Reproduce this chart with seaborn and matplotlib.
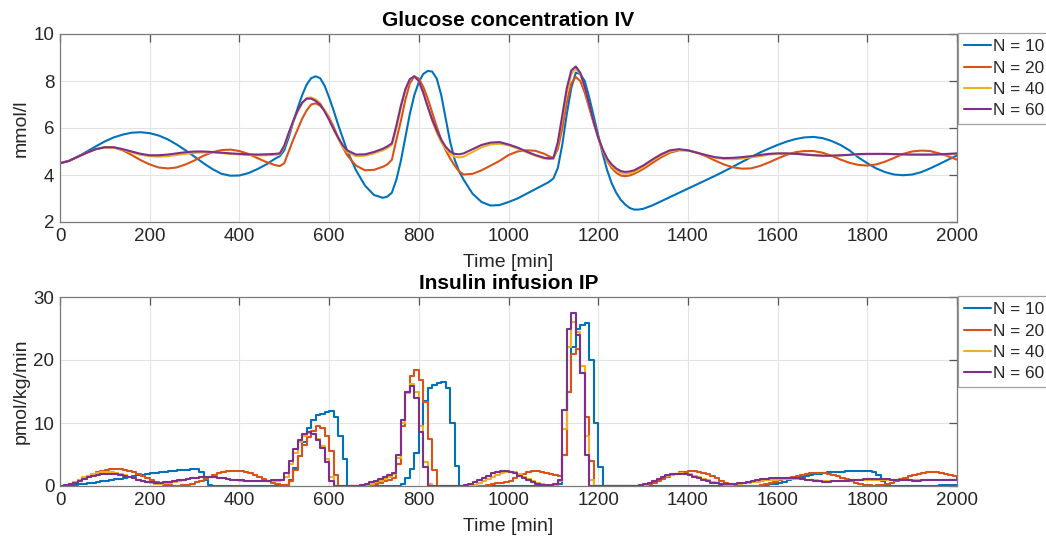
import numpy as np
import pandas as pd
import matplotlib
matplotlib.use("Agg")
import matplotlib.pyplot as plt
import seaborn as sns

# ---------------- data ----------------
series_labels = ["N = 10", "N = 20", "N = 40", "N = 60"]
series_colors = ["#0072BD", "#D95319", "#EDB120", "#7E2F8E"]

time_glucose = [
    0, 20, 40, 60, 80, 100, 120, 140, 160, 180, 200, 220, 240, 260, 280, 300,
    320, 340, 360, 380, 400, 420, 440, 460, 480,
    490, 500, 510, 520, 530, 540, 550, 560, 570, 580, 590, 600, 610, 620, 630, 640,
    660, 680, 700, 720,
    730, 740, 750, 760, 770, 780, 790, 800, 810, 820, 830, 840, 850, 860, 870, 880, 890, 900,
    920, 940, 960, 980, 1000, 1020, 1040, 1060, 1080,
    1090, 1100, 1110, 1120, 1130, 1140, 1150, 1160, 1170, 1180, 1190, 1200, 1210, 1220,
    1230, 1240, 1250, 1260, 1270, 1280, 1290, 1300,
    1320, 1340, 1360, 1380, 1400, 1420, 1440, 1460, 1480, 1500, 1520, 1540, 1560, 1580,
    1600, 1620, 1640, 1660, 1680, 1700, 1720, 1740, 1760, 1780, 1800, 1820, 1840, 1860,
    1880, 1900, 1920, 1940, 1960, 1980, 2000]
glucose_n10 = [
    4.5, 4.6, 4.78, 5.0, 5.22, 5.43, 5.6, 5.72, 5.8, 5.82, 5.78, 5.68, 5.52, 5.3, 5.05,
    4.78, 4.5, 4.25, 4.05, 3.97, 3.98, 4.08, 4.25, 4.45, 4.7,
    4.8, 5.05, 5.6, 6.25, 6.85, 7.4, 7.85, 8.12, 8.2, 8.12, 7.8, 7.3, 6.75, 6.15, 5.6, 5.05,
    4.2, 3.55, 3.15, 3.03,
    3.08, 3.25, 3.8, 4.6, 5.6, 6.6, 7.4, 7.95, 8.3, 8.43, 8.4, 8.1, 7.4, 6.4, 5.4, 4.65, 4.15, 3.8,
    3.2, 2.85, 2.7, 2.72, 2.85, 3.0, 3.2, 3.4, 3.6,
    3.7, 3.85, 4.3, 5.3, 6.6, 7.7, 8.35, 8.3, 8.0, 7.3, 6.5, 5.7, 4.9, 4.2,
    3.65, 3.25, 2.95, 2.75, 2.6, 2.53, 2.53, 2.56,
    2.7, 2.88, 3.06, 3.24, 3.42, 3.6, 3.78, 3.96, 4.15, 4.35, 4.55, 4.75, 4.95, 5.12,
    5.28, 5.42, 5.53, 5.6, 5.62, 5.57, 5.45, 5.28, 5.05, 4.75, 4.5, 4.28, 4.12, 4.02,
    3.99, 4.02, 4.12, 4.28, 4.46, 4.65, 4.83]
glucose_n20 = [
    4.5, 4.6, 4.78, 4.95, 5.1, 5.18, 5.17, 5.05, 4.85, 4.63, 4.45, 4.32, 4.28, 4.32, 4.45,
    4.62, 4.82, 4.97, 5.06, 5.08, 5.02, 4.9, 4.72, 4.55, 4.42,
    4.38, 4.5, 5.0, 5.5, 5.95, 6.4, 6.75, 7.0, 7.05, 6.95, 6.75, 6.45, 6.05, 5.6, 5.2, 4.85,
    4.4, 4.2, 4.22, 4.35,
    4.45, 4.65, 5.5, 6.3, 7.2, 7.9, 8.2, 8.1, 7.75, 7.25, 6.65, 6.05, 5.5, 5.05, 4.7, 4.4, 4.15, 4.02,
    4.05, 4.2, 4.4, 4.6, 4.85, 5.0, 5.05, 5.03, 4.9,
    4.8, 4.72, 5.1, 6.0, 7.1, 7.9, 8.17, 8.0, 7.5, 6.85, 6.2, 5.6, 5.05, 4.6,
    4.3, 4.1, 3.98, 3.95, 3.98, 4.05, 4.15, 4.25,
    4.5, 4.75, 4.95, 5.05, 5.05, 4.95, 4.8, 4.62, 4.45, 4.33, 4.27, 4.28, 4.38, 4.53,
    4.7, 4.86, 4.97, 5.02, 5.02, 4.95, 4.82, 4.66, 4.52, 4.43, 4.4, 4.45, 4.57, 4.73,
    4.9, 5.0, 5.04, 5.02, 4.92, 4.8, 4.65]
glucose_n40 = [
    4.5, 4.6, 4.78, 4.95, 5.1, 5.18, 5.17, 5.08, 4.96, 4.86, 4.8, 4.78, 4.8, 4.85, 4.9,
    4.94, 4.96, 4.96, 4.93, 4.9, 4.87, 4.85, 4.84, 4.84, 4.86,
    4.88, 5.2, 5.75, 6.25, 6.7, 7.05, 7.28, 7.3, 7.22, 7.05, 6.75, 6.4, 5.95, 5.55, 5.2, 4.98,
    4.8, 4.82, 4.92, 5.05,
    5.15, 5.28, 6.0, 6.85, 7.6, 8.05, 8.2, 8.0, 7.5, 6.9, 6.3, 5.8, 5.4, 5.1, 4.9, 4.78, 4.75, 4.78,
    4.98, 5.18, 5.3, 5.33, 5.27, 5.13, 4.97, 4.82, 4.7,
    4.68, 4.68, 5.3, 6.4, 7.5, 8.3, 8.52, 8.3, 7.7, 6.95, 6.25, 5.6, 5.05, 4.65,
    4.38, 4.2, 4.1, 4.05, 4.07, 4.12, 4.22, 4.33,
    4.6, 4.83, 5.0, 5.07, 5.04, 4.95, 4.84, 4.74, 4.68, 4.67, 4.7, 4.75, 4.8, 4.86,
    4.9, 4.91, 4.9, 4.88, 4.85, 4.83, 4.82, 4.83, 4.85, 4.87, 4.88, 4.89, 4.89, 4.88,
    4.87, 4.86, 4.86, 4.86, 4.87, 4.88, 4.9]
glucose_n60 = [
    4.5, 4.6, 4.78, 4.95, 5.1, 5.18, 5.18, 5.1, 5.0, 4.9, 4.84, 4.84, 4.87, 4.92, 4.97,
    5.0, 5.0, 4.98, 4.95, 4.92, 4.9, 4.88, 4.87, 4.88, 4.9,
    4.92, 5.25, 5.8, 6.3, 6.75, 7.08, 7.25, 7.25, 7.15, 7.0, 6.7, 6.35, 5.95, 5.6, 5.28, 5.05,
    4.87, 4.88, 4.98, 5.12,
    5.22, 5.35, 6.1, 6.95, 7.65, 8.08, 8.2, 8.0, 7.5, 6.9, 6.35, 5.9, 5.5, 5.2, 5.0, 4.9, 4.88, 4.92,
    5.1, 5.28, 5.38, 5.4, 5.3, 5.17, 5.0, 4.85, 4.73,
    4.71, 4.72, 5.4, 6.55, 7.7, 8.45, 8.62, 8.35, 7.75, 7.0, 6.25, 5.6, 5.1, 4.7,
    4.45, 4.28, 4.17, 4.13, 4.15, 4.2, 4.3, 4.4,
    4.65, 4.88, 5.05, 5.1, 5.05, 4.95, 4.85, 4.76, 4.72, 4.73, 4.76, 4.8, 4.85, 4.9,
    4.92, 4.92, 4.9, 4.87, 4.84, 4.82, 4.82, 4.84, 4.86, 4.89, 4.9, 4.9, 4.9, 4.89,
    4.88, 4.87, 4.87, 4.87, 4.88, 4.9, 4.92]

time_insulin = list(range(0, 2001, 10))
insulin_n10 = [
    0, 0.05, 0.1, 0.2, 0.25, 0.35, 0.45, 0.55, 0.65, 0.75,
    0.85, 0.95, 1.05, 1.15, 1.25, 1.4, 1.55, 1.7, 1.8, 1.9,
    2.0, 2.1, 2.2, 2.3, 2.4, 2.45, 2.5, 2.55, 2.6, 2.65,
    2.7, 2.3, 1.0, 0.2, 0, 0, 0, 0, 0, 0,
    0, 0, 0, 0, 0, 0, 0, 0, 0, 0.05,
    0.1, 1.0, 2.8, 4.8, 7.0, 9.2, 10.5, 11.2, 11.5, 11.7,
    11.85, 11.0, 8.0, 4.3, 0, 0, 0, 0, 0, 0,
    0, 0, 0, 0, 0, 0.05, 0.3, 1.2, 2.7, 5.3,
    9.5, 13.5, 15.5, 16.0, 16.4, 16.5, 15.5, 10.0, 3.2, 0,
    0, 0, 0, 0, 0, 0, 0, 0, 0, 0,
    0, 0, 0, 0, 0, 0, 0, 0, 0, 0,
    0, 0.3, 5.0, 15.0, 22.0, 25.0, 25.5, 25.8, 20.0, 10.0,
    3.0, 0, 0, 0, 0, 0, 0, 0, 0, 0,
    0, 0, 0, 0, 0, 0, 0, 0, 0, 0,
    0, 0, 0, 0, 0, 0, 0, 0, 0, 0,
    0, 0, 0, 0, 0, 0.05, 0.1, 0.15, 0.25, 0.35,
    0.5, 0.7, 0.9, 1.1, 1.3, 1.45, 1.6, 1.75, 1.85, 1.95,
    2.05, 2.15, 2.2, 2.25, 2.3, 2.35, 2.38, 2.4, 2.42, 2.44,
    2.4, 2.3, 1.8, 0.8, 0.1, 0, 0, 0, 0, 0,
    0, 0, 0, 0, 0.02, 0.05, 0.08, 0.1, 0.12, 0.15,
    0.2]
insulin_n20 = [
    0, 0.1, 0.3, 0.6, 0.9, 1.3, 1.6, 1.9, 2.2, 2.4,
    2.6, 2.7, 2.75, 2.7, 2.6, 2.45, 2.2, 1.95, 1.65, 1.3,
    1.0, 0.7, 0.4, 0.2, 0.1, 0.05, 0.05, 0.1, 0.2, 0.35,
    0.6, 0.85, 1.15, 1.45, 1.75, 2.0, 2.2, 2.35, 2.4, 2.4,
    2.35, 2.2, 2.0, 1.75, 1.45, 1.15, 0.85, 0.55, 0.3, 0.15,
    0.2, 0.8, 2.5, 4.8, 6.5, 7.8, 8.8, 9.6, 9.2, 8.0,
    5.5, 1.8, 0, 0, 0, 0, 0, 0, 0.05, 0.15,
    0.3, 0.5, 0.75, 1.0, 1.3, 3.5, 9.5, 15.0, 17.5, 18.4,
    16.8, 13.4, 7.5, 2.5, 0, 0, 0, 0, 0, 0,
    0, 0, 0, 0, 0.05, 0.15, 0.3, 0.4, 0.5, 0.6,
    0.85, 1.2, 1.6, 1.95, 2.2, 2.4, 2.4, 2.3, 2.1, 1.9,
    1.7, 1.6, 5.0, 15.0, 21.0, 21.8, 18.0, 11.0, 4.0, 0,
    0, 0, 0, 0, 0, 0, 0, 0, 0, 0.05,
    0.15, 0.3, 0.5, 0.8, 1.1, 1.4, 1.7, 1.95, 2.15, 2.3,
    2.4, 2.4, 2.3, 2.1, 1.85, 1.55, 1.2, 0.85, 0.55, 0.3,
    0.15, 0.05, 0, 0, 0, 0.05, 0.15, 0.3, 0.5, 0.7,
    0.9, 1.1, 1.3, 1.5, 1.65, 1.8, 1.9, 2.0, 2.05, 2.05,
    2.0, 1.9, 1.75, 1.55, 1.3, 1.05, 0.8, 0.55, 0.35, 0.2,
    0.1, 0.05, 0.1, 0.2, 0.35, 0.55, 0.8, 1.05, 1.3, 1.55,
    1.75, 1.9, 2.05, 2.15, 2.2, 2.2, 2.1, 1.95, 1.75, 1.55,
    1.3]
insulin_n40 = [
    0, 0.1, 0.35, 0.65, 1.0, 1.35, 1.65, 1.9, 2.05, 2.15,
    2.2, 2.2, 2.1, 1.95, 1.75, 1.5, 1.25, 1.0, 0.8, 0.6,
    0.45, 0.35, 0.35, 0.4, 0.5, 0.65, 0.8, 0.95, 1.1, 1.2,
    1.3, 1.35, 1.4, 1.4, 1.35, 1.3, 1.2, 1.1, 1.0, 0.9,
    0.85, 0.8, 0.75, 0.75, 0.75, 0.75, 0.8, 0.8, 0.85, 0.9,
    1.5, 3.5, 5.3, 7.0, 8.0, 8.4, 8.2, 7.5, 6.3, 4.3,
    1.5, 0, 0, 0, 0, 0, 0, 0.05, 0.15, 0.35,
    0.6, 0.85, 1.15, 1.45, 1.85, 4.5, 10.0, 14.8, 16.2, 15.0,
    9.5, 3.8, 0.3, 0, 0, 0, 0, 0, 0, 0,
    0, 0.05, 0.2, 0.45, 0.75, 1.05, 1.4, 1.75, 2.05, 2.25,
    2.3, 2.15, 1.85, 1.5, 1.15, 0.8, 0.5, 0.3, 0.15, 0.1,
    0.2, 0.8, 9.0, 22.0, 26.0, 24.5, 19.0, 8.0, 1.0, 0,
    0, 0, 0, 0, 0, 0, 0, 0, 0, 0.05,
    0.2, 0.45, 0.75, 1.05, 1.35, 1.6, 1.8, 1.95, 2.0, 1.95,
    1.85, 1.65, 1.4, 1.15, 0.9, 0.65, 0.45, 0.3, 0.2, 0.2,
    0.25, 0.3, 0.4, 0.5, 0.6, 0.7, 0.8, 0.9, 0.95, 1.0,
    1.05, 1.1, 1.1, 1.1, 1.1, 1.05, 1.0, 0.95, 0.9, 0.85,
    0.8, 0.8, 0.8, 0.8, 0.82, 0.85, 0.9, 0.93, 0.96, 1.0,
    1.0, 1.02, 1.03, 1.03, 1.02, 1.0, 0.98, 0.95, 0.93, 0.92,
    0.9, 0.9, 0.9, 0.9, 0.92, 0.93, 0.95, 0.97, 0.98, 1.0,
    1.0]
insulin_n60 = [
    0, 0.1, 0.3, 0.55, 0.85, 1.15, 1.4, 1.6, 1.75, 1.85,
    1.9, 1.9, 1.85, 1.75, 1.6, 1.4, 1.2, 1.0, 0.85, 0.7,
    0.6, 0.55, 0.55, 0.6, 0.7, 0.8, 0.9, 1.0, 1.1, 1.2,
    1.3, 1.35, 1.4, 1.4, 1.35, 1.3, 1.2, 1.1, 1.0, 0.95,
    0.9, 0.85, 0.85, 0.85, 0.85, 0.85, 0.85, 0.9, 0.95, 1.0,
    2.0, 4.0, 5.8, 7.3, 8.2, 8.6, 8.2, 7.3, 6.0, 3.8,
    0.8, 0, 0, 0, 0, 0, 0, 0.1, 0.35, 0.6,
    0.85, 1.1, 1.4, 1.7, 2.1, 5.0, 10.5, 15.0, 15.9, 14.0,
    8.5, 3.0, 0, 0, 0, 0, 0, 0, 0, 0,
    0.1, 0.3, 0.6, 0.9, 1.2, 1.6, 2.0, 2.3, 2.4, 2.4,
    2.3, 2.0, 1.6, 1.2, 0.9, 0.6, 0.35, 0.2, 0.1, 0.1,
    0.3, 1.0, 12.0, 25.0, 27.4, 24.0, 18.0, 5.0, 0, 0,
    0, 0, 0, 0, 0, 0, 0, 0, 0, 0.1,
    0.3, 0.55, 0.85, 1.15, 1.45, 1.7, 1.85, 1.95, 1.95, 1.85,
    1.7, 1.5, 1.25, 1.0, 0.75, 0.55, 0.4, 0.3, 0.25, 0.25,
    0.3, 0.4, 0.5, 0.65, 0.8, 0.95, 1.05, 1.15, 1.2, 1.25,
    1.3, 1.3, 1.3, 1.25, 1.2, 1.1, 1.0, 0.9, 0.8, 0.75,
    0.7, 0.7, 0.72, 0.75, 0.8, 0.85, 0.9, 0.95, 1.0, 1.05,
    1.1, 1.1, 1.1, 1.1, 1.05, 1.0, 0.95, 0.92, 0.9, 0.88,
    0.87, 0.87, 0.88, 0.9, 0.92, 0.95, 0.97, 1.0, 1.02, 1.03,
    1.05]

glucose_title = "Glucose concentration IV"
insulin_title = "Insulin infusion IP"
x_label = "Time [min]"
glucose_ylabel = "mmol/l"
insulin_ylabel = "pmol/kg/min"

# ---------------- frames ----------------
def long_frame(times, series):
    parts = []
    for lab, vals in zip(series_labels, series):
        assert len(vals) == len(times), (lab, len(vals), len(times))
        parts.append(pd.DataFrame({"t": times, "v": vals, "N": lab}))
    return pd.concat(parts, ignore_index=True)

df_g = long_frame(time_glucose, [glucose_n10, glucose_n20, glucose_n40, glucose_n60])
df_i = long_frame(time_insulin, [insulin_n10, insulin_n20, insulin_n40, insulin_n60])

# ---------------- style ----------------
sns.set_style("white")
plt.rcParams["font.family"] = ["Liberation Sans", "DejaVu Sans"]
palette = dict(zip(series_labels, series_colors))

W, H = 1046, 544
fig = plt.figure(figsize=(W / 100, H / 100), dpi=100)
ax1 = fig.add_axes([60 / W, 1 - 222 / H, 897 / W, 188 / H])
ax2 = fig.add_axes([60 / W, 1 - 486 / H, 897 / W, 189 / H])

sns.lineplot(data=df_g, x="t", y="v", hue="N", hue_order=series_labels,
             palette=palette, estimator=None, sort=False, lw=1.5, ax=ax1)
sns.lineplot(data=df_i, x="t", y="v", hue="N", hue_order=series_labels,
             palette=palette, estimator=None, sort=False, lw=1.5,
             drawstyle="steps-post", ax=ax2)

txt = "#262626"
for ax, ylim, yt, title, ylab in [
        (ax1, (2, 10), [2, 4, 6, 8, 10], glucose_title, glucose_ylabel),
        (ax2, (0, 30), [0, 10, 20, 30], insulin_title, insulin_ylabel)]:
    ax.set_xlim(0, 2000)
    ax.set_ylim(*ylim)
    ax.set_xticks(range(0, 2001, 200))
    ax.set_yticks(yt)
    ax.grid(True, color="#e3e3e3", lw=0.8)
    ax.set_axisbelow(True)
    for s in ax.spines.values():
        s.set_color("#7a7a7a")
        s.set_linewidth(0.9)
    ax.tick_params(direction="in", top=True, right=True, length=6, width=0.9,
                   color="#555555", labelcolor=txt, labelsize=13.5, pad=4)
    ax.set_title(title, fontsize=15, fontweight="bold", color="black", pad=6)
    ax.set_xlabel(x_label, fontsize=14, color=txt, labelpad=7)
    ax.set_ylabel(ylab, fontsize=14, color=txt, labelpad=3)
    leg = ax.legend(loc="upper left", bbox_to_anchor=(1.001, 1.004), frameon=True,
                    fancybox=False, fontsize=12.4, handlelength=1.55,
                    handletextpad=0.12, borderpad=0.35, labelspacing=0.36,
                    borderaxespad=0, title=None)
    leg.get_frame().set_edgecolor("#8a8a8a")
    leg.get_frame().set_linewidth(0.9)
    for t in leg.get_texts():
        t.set_color(txt)
    for h in leg.get_lines():
        h.set_linewidth(1.5)

fig.savefig("out.png", dpi=100, facecolor="white")
